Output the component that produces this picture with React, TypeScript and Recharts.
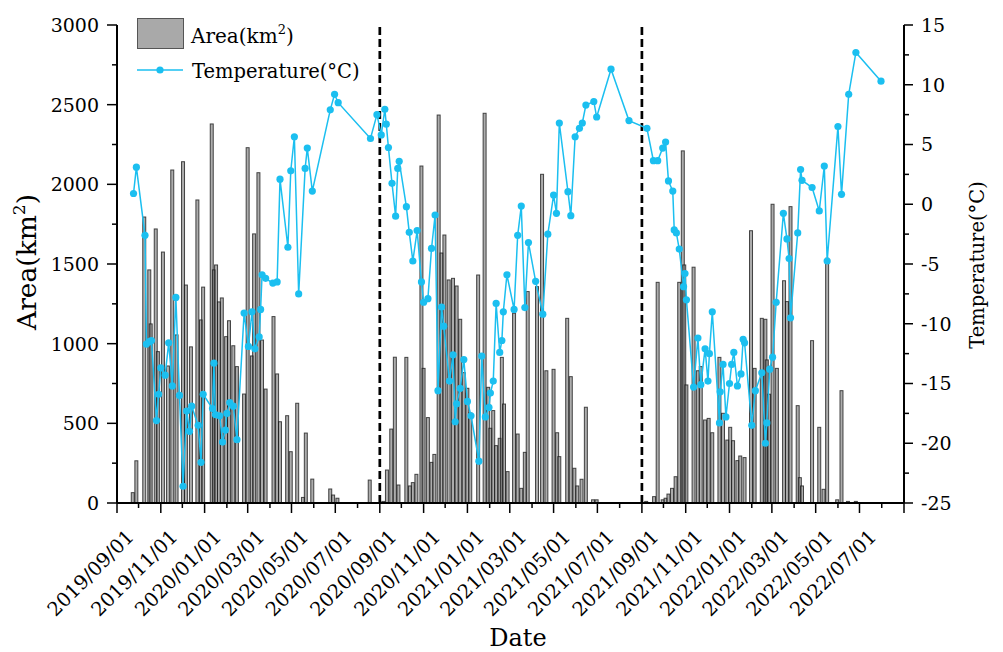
import { ComposedChart, Bar, Line, XAxis, YAxis, ReferenceLine } from 'recharts'

// x positions are days since 2019-09-01
const areaDays = [
  22, 27, 38, 45, 47, 54, 57, 64, 71, 77, 83, 92, 96, 103, 112, 117, 120, 132, 135, 138,
  142, 146, 152, 156, 162, 167, 177, 182, 188, 191, 197, 202, 207, 218, 223, 227, 237, 242, 251, 259,
  263, 272, 297, 301, 307, 352, 371, 376, 382, 387, 392, 403, 408, 412, 417, 424, 427, 433, 438, 442,
  448, 452, 456, 462, 468, 473, 478, 483, 488, 492, 503, 512, 517, 520, 524, 528, 533, 536, 539, 544,
  553, 558, 563, 568, 572, 585, 592, 598, 608, 613, 616, 627, 632, 637, 641, 647, 653, 663, 668, 737,
  748, 753, 760, 764, 768, 773, 778, 783, 788, 790, 793, 803, 809, 813, 819, 824, 829, 839, 844, 850,
  854, 858, 864, 868, 874, 883, 888, 898, 903, 905, 908, 913, 919, 929, 933, 938, 948, 951, 954, 968,
  978, 984, 989, 1003, 1009, 1018, 1029,
]
const areaKm2 = [
  65, 265, 1795, 1463, 1124, 1720, 950, 1575, 860, 2090, 1055, 2142, 1368, 980, 1902, 1149, 1355, 2379, 1463, 1494,
  1262, 1287, 1044, 1144, 987, 856, 684, 2230, 923, 1689, 2073, 1023, 715, 1170, 810, 510, 548, 322, 626, 35,
  439, 150, 88, 50, 30, 144, 10, 207, 464, 915, 113, 914, 107, 128, 180, 2115, 845, 536, 255, 305,
  2435, 1569, 1682, 1400, 1410, 1362, 1153, 818, 720, 565, 1431, 2446, 726, 469, 580, 360, 406, 914, 621, 197,
  1191, 433, 92, 318, 1327, 1358, 2063, 830, 839, 441, 291, 1159, 793, 218, 107, 149, 601, 20, 20, 10,
  40, 1385, 20, 30, 56, 92, 165, 1385, 2210, 1494, 741, 1480, 830, 856, 521, 531, 441, 914, 563, 395,
  475, 391, 266, 295, 285, 1709, 845, 1159, 1153, 898, 683, 1875, 845, 1395, 1264, 1860, 611, 159, 107, 1019,
  475, 86, 1536, 20, 705, 10, 10,
]

const tempDays = [
  23, 27, 39, 41, 45, 48, 55, 58, 61, 67, 72, 77, 82, 87, 92, 97, 101, 104, 113, 117,
  120, 133, 135, 137, 143, 147, 151, 153, 157, 162, 167, 177, 183, 188, 192, 198, 200, 202, 207, 217,
  223, 227, 238, 242, 247, 253, 262, 265, 272, 297, 303, 308, 353, 362, 368, 373, 375, 378, 383, 388,
  391, 393, 403, 407, 412, 418, 424, 427, 433, 438, 443, 447, 452, 455, 463, 468, 471, 473, 478, 483,
  488, 493, 504, 508, 513, 518, 520, 524, 528, 533, 536, 538, 543, 553, 558, 563, 568, 573, 583, 593,
  600, 608, 612, 616, 628, 632, 638, 644, 648, 653, 664, 668, 688, 713, 738, 747, 753, 760, 764, 768,
  774, 776, 779, 783, 789, 791, 793, 803, 809, 813, 819, 823, 825, 829, 839, 840, 844, 848, 853, 856,
  859, 864, 869, 872, 874, 884, 889, 898, 903, 905, 909, 913, 918, 928, 933, 936, 938, 948, 952, 954,
  968, 978, 985, 989, 1004, 1009, 1019, 1029, 1064,
]
const tempC = [
  0.9, 3.1, -2.6, -11.7, -11.5, -11.4, -18.1, -15.9, -13.7, -14.3, -11.6, -15.2, -7.8, -16.0, -23.6, -17.3, -19.0, -16.9, -18.5, -21.6,
  -15.9, -17.1, -13.3, -17.6, -17.7, -19.9, -18.9, -17.5, -16.6, -16.9, -19.7, -9.1, -11.9, -9.0, -12.1, -11.1, -8.8, -5.9, -6.2, -6.6,
  -6.5, 2.1, -3.6, 2.8, 5.65, -7.5, 3.0, 4.7, 1.1, 7.9, 9.2, 8.5, 5.5, 7.5, 5.8, 7.95, 6.7, 4.75, 1.75, -1.0,
  3.0, 3.6, -0.2, -2.35, -4.75, -2.2, -6.5, -8.2, -7.9, -3.7, -0.9, -15.6, -8.6, -10.2, -14.8, -12.6, -18.2, -16.7, -15.4, -13.0,
  -16.5, -17.7, -21.5, -12.7, -17.8, -17.0, -15.8, -14.8, -8.3, -12.4, -11.4, -9.0, -5.9, -8.8, -2.6, -0.15, -8.65, -3.2, -6.45, -9.2,
  -2.5, 0.77, -0.76, 6.8, 1.05, -0.96, 5.65, 6.35, 6.8, 8.3, 8.6, 7.3, 11.3, 7.0, 6.35, 3.65, 3.65, 4.7, 5.2, 1.95,
  1.1, -2.15, -2.4, -3.75, -6.9, -5.8, -8.0, -15.3, -11.2, -15.1, -12.1, -14.8, -12.5, -9.0, -18.3, -15.7, -13.4, -17.8, -15.0, -13.4,
  -12.4, -15.2, -14.2, -11.3, -11.6, -18.5, -15.6, -14.1, -20.0, -18.3, -13.8, -12.8, -8.2, -0.76, -2.9, -4.55, -9.5, -2.4, 2.9, 2.0,
  1.4, -0.56, 3.2, -4.75, 6.5, 0.83, 9.2, 12.7, 10.3,
]

const dateLabels = [
  '2019/09/01', '2019/11/01', '2020/01/01', '2020/03/01', '2020/05/01', '2020/07/01',
  '2020/09/01', '2020/11/01', '2021/01/01', '2021/03/01', '2021/05/01', '2021/07/01',
  '2021/09/01', '2021/11/01', '2022/01/01', '2022/03/01', '2022/05/01', '2022/07/01',
]
const splitDates = ['2020/09/01', '2021/09/01']
const areaTicks = [0, 250, 500, 750, 1000, 1250, 1500, 1750, 2000, 2250, 2500, 2750, 3000]
const tempTicks = [-25, -22.5, -20, -17.5, -15, -12.5, -10, -7.5, -5, -2.5, 0, 2.5, 5, 7.5, 10, 12.5, 15]

const BLUE = '#1bbff0'
const FONT = '"DejaVu Serif", serif'
const DAY_MS = 86400000
const START = Date.UTC(2019, 8, 1)

const toDay = (s: string) => {
  const [y, m, d] = s.split('/').map(Number)
  return Math.round((Date.UTC(y, m - 1, d) - START) / DAY_MS)
}
// one tick per month, 2019/09/01 .. 2022/09/01
const monthTicks = Array.from({ length: 37 }, (_, i) => Math.round((Date.UTC(2019, 8 + i, 1) - START) / DAY_MS))
const labelByDay = new Map(dateLabels.map((s) => [toDay(s), s]))
const X_MAX = monthTicks[monthTicks.length - 1]

const areaData = areaDays.map((day, i) => ({ day, area: areaKm2[i] }))
const tempData = tempDays.map((day, i) => ({ day, temp: tempC[i] }))

function DateTick({ x, y, payload }: any) {
  const label = labelByDay.get(payload.value)
  const major = monthTicks.indexOf(payload.value) % 2 === 0
  const tx = x + 18
  const ty = y + 35
  return (
    <g>
      <line x1={x} x2={x} y1={y} y2={y + (major ? 10 : 5)} stroke="#000" strokeWidth={1.5} />
      {label && (
        <text x={tx} y={ty} transform={`rotate(-45 ${tx} ${ty})`} textAnchor="end"
          fontSize={19.5} fontFamily={FONT} fill="#000">{label}</text>
      )}
    </g>
  )
}

function AreaTick({ x, y, payload }: any) {
  const major = payload.value % 500 === 0
  return (
    <g>
      <line x1={x} x2={x - (major ? 10 : 5)} y1={y} y2={y} stroke="#000" strokeWidth={1.5} />
      {major && (
        <text x={x - 18} y={y} dy="0.36em" textAnchor="end" fontSize={19} fontFamily={FONT} fill="#000">
          {payload.value}
        </text>
      )}
    </g>
  )
}

function TempTick({ x, y, payload }: any) {
  const major = payload.value % 5 === 0
  return (
    <g>
      <line x1={x} x2={x + (major ? 9 : 5)} y1={y} y2={y} stroke="#000" strokeWidth={1.5} />
      {major && (
        <text x={x + 17} y={y} dy="0.36em" textAnchor="start" fontSize={19} fontFamily={FONT} fill="#000">
          {payload.value}
        </text>
      )}
    </g>
  )
}

function AreaBar(props: any) {
  const { x, y, width, height } = props
  if (!height || height <= 0) return null
  const cx = x + width / 2
  return (
    <rect x={cx - 1.5} y={y} width={3} height={height}
      fill="#7a7a7a" fillOpacity={0.62} stroke="#111" strokeOpacity={0.75} strokeWidth={1} />
  )
}

export default function App() {
  return (
    <div style={{ position: 'absolute', left: 0, top: 0, width: 1003, height: 652, background: '#fff' }}>
      <ComposedChart width={1003} height={652} data={areaData}
        margin={{ top: 25, right: 0, bottom: 0, left: 0 }}>
        <XAxis dataKey="day" type="number" domain={[0, X_MAX]} allowDataOverflow
          ticks={monthTicks} interval={0} tickSize={0} tickMargin={0} height={149}
          axisLine={{ stroke: '#000', strokeWidth: 2 }} tickLine={false} tick={<DateTick />} />
        <YAxis yAxisId="area" orientation="left" width={117} domain={[0, 3000]}
          ticks={areaTicks} interval={0} tickSize={0} tickMargin={0}
          axisLine={{ stroke: '#000', strokeWidth: 2 }} tickLine={false} tick={<AreaTick />} />
        <YAxis yAxisId="temp" orientation="right" width={99} domain={[-25, 15]}
          ticks={tempTicks} interval={0} tickSize={0} tickMargin={0}
          axisLine={{ stroke: '#000', strokeWidth: 2 }} tickLine={false} tick={<TempTick />} />
        <Bar yAxisId="area" dataKey="area" barSize={4} shape={<AreaBar />} isAnimationActive={false} />
        {splitDates.map((d) => (
          <ReferenceLine key={d} x={toDay(d)} yAxisId="area" stroke="#000"
            strokeWidth={2.7} strokeDasharray="8 4" />
        ))}
        <Line data={tempData} yAxisId="temp" dataKey="temp" stroke={BLUE} strokeWidth={1.5}
          dot={{ r: 3.6, fill: BLUE, stroke: BLUE, strokeWidth: 0 }} activeDot={false}
          isAnimationActive={false} />
      </ComposedChart>

      {/* legend and axis titles */}
      <svg width={1003} height={652} style={{ position: 'absolute', left: 0, top: 0, pointerEvents: 'none' }}>
        <rect x={137.5} y={18.5} width={46} height={30} fill="#a9a9a9" stroke="#555" strokeWidth={1} />
        <text x={191} y={43} fontSize={20} fontFamily={FONT} fill="#000">
          Area(km<tspan dy={-9} fontSize={13}>2</tspan><tspan dy={9}>)</tspan>
        </text>
        <line x1={137} x2={183} y1={70} y2={70} stroke={BLUE} strokeWidth={1.5} />
        <circle cx={160} cy={70} r={3.6} fill={BLUE} />
        <text x={192} y={78} fontSize={19.5} fontFamily={FONT} fill="#000">Temperature(°C)</text>

        <text x={36} y={262} transform="rotate(-90 36 262)" textAnchor="middle" fontSize={26.5} fontFamily={FONT} fill="#000">
          Area(km<tspan dy={-11} fontSize={17}>2</tspan><tspan dy={11}>)</tspan>
        </text>
        <text x={984} y={265} transform="rotate(-90 984 265)" textAnchor="middle" fontSize={19.5} fontFamily={FONT} fill="#000">
          Temperature(°C)
        </text>
        <text x={518} y={646} textAnchor="middle" fontSize={24} fontFamily={FONT} fill="#000">Date</text>
      </svg>
    </div>
  )
}
